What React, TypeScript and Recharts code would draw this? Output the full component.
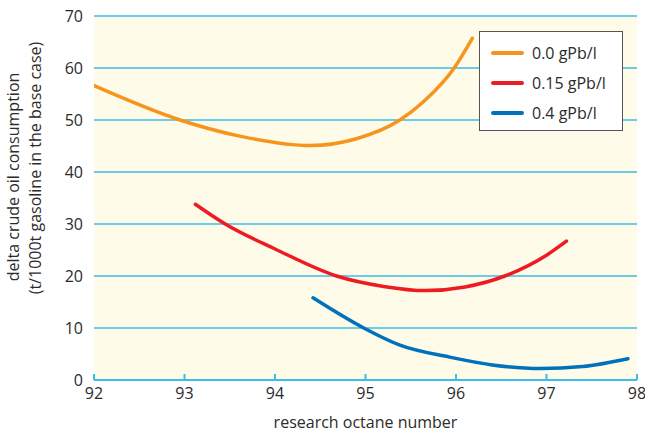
import React from 'react';
import {
  LineChart,
  Line,
  XAxis,
  YAxis,
  CartesianGrid,
} from 'recharts';

const xTicks = [92, 93, 94, 95, 96, 97, 98];
const yTicks = [0, 10, 20, 30, 40, 50, 60, 70];

// 0.0 gPb/l
const ronLead0 = [92, 92.95, 93.61, 94.39, 94.9, 95.38, 95.64, 95.98, 96.18];
const crudeLead0 = [56.6, 50, 46.9, 45.1, 46.4, 50, 53.5, 60, 65.7];

// 0.15 gPb/l
const ronLead15 = [93.12, 93.45, 94, 94.68, 95.2, 95.66, 96.1, 96.54, 97, 97.22];
const crudeLead15 = [33.8, 30, 25.2, 20, 18, 17.2, 17.9, 20, 24, 26.7];

// 0.4 gPb/l
const ronLead40 = [94.42, 94.98, 95.38, 95.93, 96.4, 96.93, 97.4, 97.9];
const crudeLead40 = [15.8, 10, 6.7, 4.4, 2.9, 2.2, 2.6, 4.1];

const zip = (xs: number[], ys: number[]) => xs.map((x, i) => ({ x, y: ys[i] }));

const series = [
  { name: '0.0 gPb/l', color: '#f7941d', data: zip(ronLead0, crudeLead0) },
  { name: '0.15 gPb/l', color: '#ed1c24', data: zip(ronLead15, crudeLead15) },
  { name: '0.4 gPb/l', color: '#0072bc', data: zip(ronLead40, crudeLead40) },
];

const FONT = '"Open Sans", sans-serif';
const TEXT = '#2b2b2b';
const GRID = '#3dbde9';

function LegendBox() {
  return (
    <div
      style={{
        position: 'absolute',
        left: 479,
        top: 31,
        width: 144,
        height: 100,
        boxSizing: 'border-box',
        background: '#fff',
        border: '1.5px solid #555',
        padding: '6px 0 0 11px',
        fontFamily: FONT,
        fontSize: 16,
        color: TEXT,
      }}
    >
      {series.map((s) => (
        <div key={s.name} style={{ display: 'flex', alignItems: 'center', height: 30 }}>
          <span
            style={{
              display: 'inline-block',
              width: 33,
              height: 4,
              borderRadius: 2,
              background: s.color,
              marginRight: 8,
            }}
          />
          {s.name}
        </div>
      ))}
    </div>
  );
}

function YLabel() {
  return (
    <g fontFamily={FONT} fontSize={16} fill={TEXT} textAnchor="middle">
      <text transform="translate(19,177) rotate(-90)">delta crude oil consumption</text>
      <text transform="translate(41,168) rotate(-90)">(t/1000t gasoline in the base case)</text>
    </g>
  );
}

export default function App() {
  return (
    <div style={{ width: 645, height: 434, position: 'relative' }}>
      <style>{`body{margin:0}`}</style>
      <LineChart
        width={645}
        height={434}
        margin={{ top: 16, right: 8, left: 0, bottom: 0 }}
      >
        <CartesianGrid
          vertical={false}
          stroke={GRID}
          strokeWidth={1.5}
          fill="#fefbe8"
          fillOpacity={1}
        />
        <XAxis
          type="number"
          dataKey="x"
          domain={[92, 98]}
          ticks={xTicks}
          allowDataOverflow
          height={54}
          axisLine={{ stroke: GRID, strokeWidth: 2 }}
          tickLine={{ stroke: GRID, strokeWidth: 2 }}
          tickSize={-6}
          tickMargin={14}
          tick={{ fill: TEXT, fontSize: 16, fontFamily: FONT }}
          label={{
            value: 'research octane number',
            position: 'insideBottom',
            offset: 6,
            fill: TEXT,
            fontSize: 16,
            fontFamily: FONT,
          }}
        />
        <YAxis
          type="number"
          domain={[0, 70]}
          ticks={yTicks}
          width={94}
          axisLine={false}
          tickLine={false}
          tickSize={0}
          tickMargin={11}
          tick={{ fill: TEXT, fontSize: 16, fontFamily: FONT }}
          label={<YLabel />}
        />
        {series.map((s) => (
          <Line
            key={s.name}
            name={s.name}
            data={s.data}
            dataKey="y"
            type="monotoneX"
            stroke={s.color}
            strokeWidth={3.5}
            strokeLinecap="round"
            dot={false}
            activeDot={false}
            isAnimationActive={false}
          />
        ))}
      </LineChart>
      <LegendBox />
    </div>
  );
}
